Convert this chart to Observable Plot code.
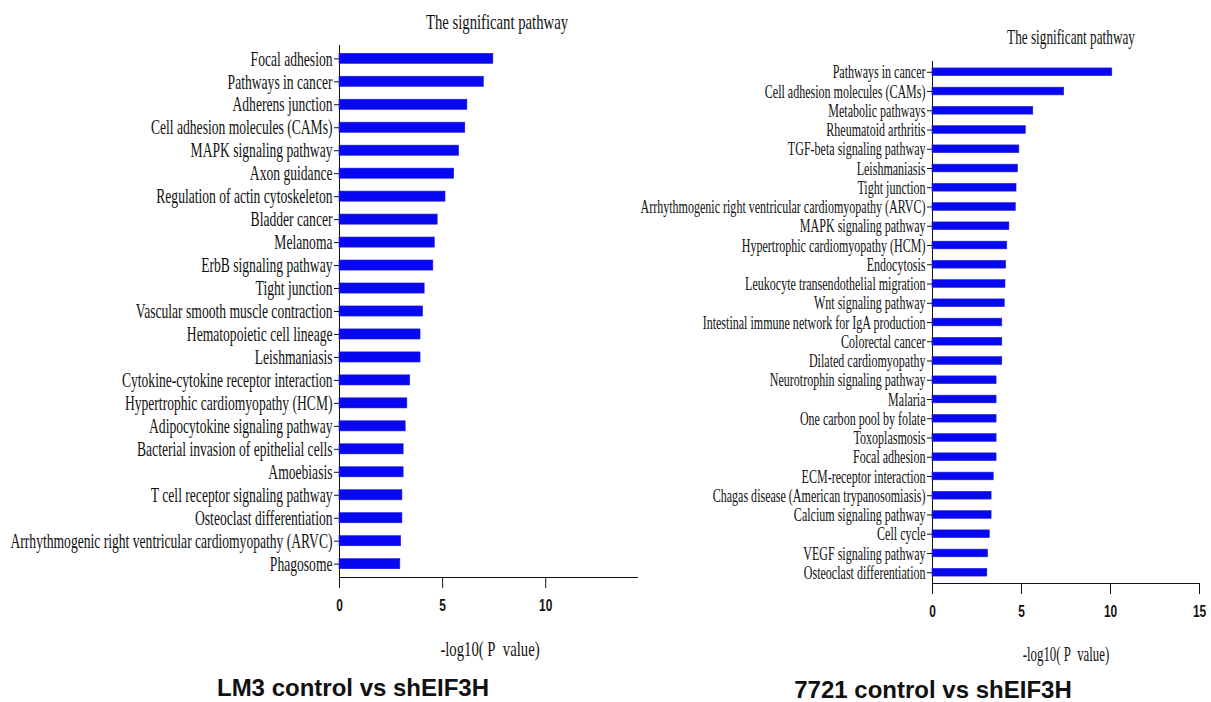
<!DOCTYPE html>
<html><head><meta charset="utf-8">
<script src="https://cdn.jsdelivr.net/npm/d3@7"></script>
<script src="https://cdn.jsdelivr.net/npm/@observablehq/plot@0.6"></script>
<style>
body{margin:0;background:#fff;}
#wrap{position:relative;width:1211px;height:702px;overflow:hidden;background:#fff;}
#wrap svg{position:absolute;top:0;}
.lbl{position:absolute;font-family:"Liberation Serif","Times New Roman",serif;font-size:21px;line-height:1;white-space:nowrap;color:#111;}
.cap{position:absolute;font-family:"Liberation Sans",Arial,sans-serif;font-weight:bold;font-size:24px;line-height:20px;white-space:nowrap;color:#111;transform:translateX(-50%);}
</style></head><body><div id="wrap"></div>
<script>
// ---- data ----
const lm3Pathways = [
  "Focal adhesion","Pathways in cancer","Adherens junction","Cell adhesion molecules (CAMs)",
  "MAPK signaling pathway","Axon guidance","Regulation of actin cytoskeleton","Bladder cancer",
  "Melanoma","ErbB signaling pathway","Tight junction","Vascular smooth muscle contraction",
  "Hematopoietic cell lineage","Leishmaniasis","Cytokine-cytokine receptor interaction",
  "Hypertrophic cardiomyopathy (HCM)","Adipocytokine signaling pathway","Bacterial invasion of epithelial cells",
  "Amoebiasis","T cell receptor signaling pathway","Osteoclast differentiation",
  "Arrhythmogenic right ventricular cardiomyopathy (ARVC)","Phagosome"
];
const lm3Values = [7.46,7.0,6.2,6.1,5.8,5.56,5.14,4.76,4.62,4.55,4.13,4.05,3.93,3.93,3.43,3.29,3.21,3.11,3.11,3.05,3.05,2.99,2.95];

const c7721Pathways = [
  "Pathways in cancer","Cell adhesion molecules (CAMs)","Metabolic pathways","Rheumatoid arthritis",
  "TGF-beta signaling pathway","Leishmaniasis","Tight junction","Arrhythmogenic right ventricular cardiomyopathy (ARVC)",
  "MAPK signaling pathway","Hypertrophic cardiomyopathy (HCM)","Endocytosis","Leukocyte transendothelial migration",
  "Wnt signaling pathway","Intestinal immune network for IgA production","Colorectal cancer","Dilated cardiomyopathy",
  "Neurotrophin signaling pathway","Malaria","One carbon pool by folate","Toxoplasmosis","Focal adhesion",
  "ECM-receptor interaction","Chagas disease (American trypanosomiasis)","Calcium signaling pathway","Cell cycle",
  "VEGF signaling pathway","Osteoclast differentiation"
];
const c7721Values = [10.1,7.4,5.66,5.24,4.88,4.8,4.72,4.68,4.32,4.2,4.14,4.1,4.06,3.92,3.92,3.92,3.6,3.6,3.6,3.6,3.6,3.44,3.32,3.32,3.22,3.12,3.08];

const lm3Ticks = [0,5,10];
const c7721Ticks = [0,5,10,15];
const chartTitle = "The significant pathway";
const xTitle = "-log10( P\u00a0\u00a0value)";
const lm3Caption = "LM3 control vs shEIF3H";
const c7721Caption = "7721 control vs shEIF3H";

const wrap = document.getElementById("wrap");

function compress(texts, factor) {
  texts.forEach(t => {
    const len = t.getComputedTextLength();
    if (len > 0) {
      t.setAttribute("textLength", (len * factor).toFixed(2));
      t.setAttribute("lengthAdjust", "spacingAndGlyphs");
    }
  });
}

function drawChart(o) {
  const data = o.names.map((n, i) => ({pathway: n, value: o.values[i]}));
  const svg = Plot.plot({
    width: o.width, height: 702,
    marginLeft: o.marginLeft, marginRight: o.marginRight,
    marginTop: o.marginTop, marginBottom: o.marginBottom,
    style: {fontFamily: '"Liberation Serif","Times New Roman",serif', fontSize: o.fontSize + "px", color: "#111", background: "transparent", overflow: "visible"},
    x: {domain: [0, o.xMax], ticks: o.ticks, tickSize: 11, tickPadding: 10, line: true, label: null, tickFormat: d => String(d)},
    y: {domain: o.names, paddingInner: o.paddingInner, paddingOuter: o.paddingOuter, round: false, tickSize: 5, tickPadding: 2, line: true, label: null},
    marks: [
      Plot.barX(data, {x: "value", y: "pathway", fill: "#0707f2", stroke: "#2020c8", strokeWidth: 0.6})
    ]
  });
  svg.style.left = o.left + "px";
  wrap.appendChild(svg);
  const ylab = Array.from(svg.querySelectorAll('g[aria-label="y-axis tick label"] text'));
  const ref = ylab.find(t => t.textContent.startsWith("Arrhythmogenic"));
  const f = ref ? o.refWidth / ref.getComputedTextLength() : 0.72;
  compress(ylab, f);
  const xlab = Array.from(svg.querySelectorAll('g[aria-label="x-axis tick label"] text'));
  xlab.forEach(t => {
    t.setAttribute("font-family", '"Liberation Sans",Arial,sans-serif');
    t.setAttribute("font-weight", "bold");
    t.setAttribute("font-size", "17");
  });
  compress(xlab, 0.7);
}

drawChart({names: lm3Pathways, values: lm3Values, width: 640, left: 0,
  marginLeft: 339, marginRight: 3, marginTop: 45, marginBottom: 125,
  xMax: 14.45, ticks: lm3Ticks, paddingInner: 0.56, paddingOuter: 0.36, fontSize: 21, refWidth: 322});
drawChart({names: c7721Pathways, values: c7721Values, width: 571, left: 640,
  marginLeft: 292, marginRight: 12, marginTop: 61, marginBottom: 119,
  xMax: 15, ticks: c7721Ticks, paddingInner: 0.6, paddingOuter: 0.36, fontSize: 19, refWidth: 285});

function addLabel(text, cls, cx, top, sx) {
  const d = document.createElement("div");
  d.className = cls;
  d.textContent = text;
  d.style.left = cx + "px";
  d.style.top = top + "px";
  if (sx) d.style.transform = `translateX(-50%) scaleX(${sx})`;
  wrap.appendChild(d);
}
addLabel(chartTitle, "lbl", 497, 12, 0.70);
addLabel(chartTitle, "lbl", 1071, 27, 0.63);
addLabel(xTitle, "lbl", 490, 639, 0.70);
addLabel(xTitle, "lbl", 1066, 644, 0.61);
addLabel(lm3Caption, "cap", 353, 678);
addLabel(c7721Caption, "cap", 933, 680);
</script>
</body></html>
